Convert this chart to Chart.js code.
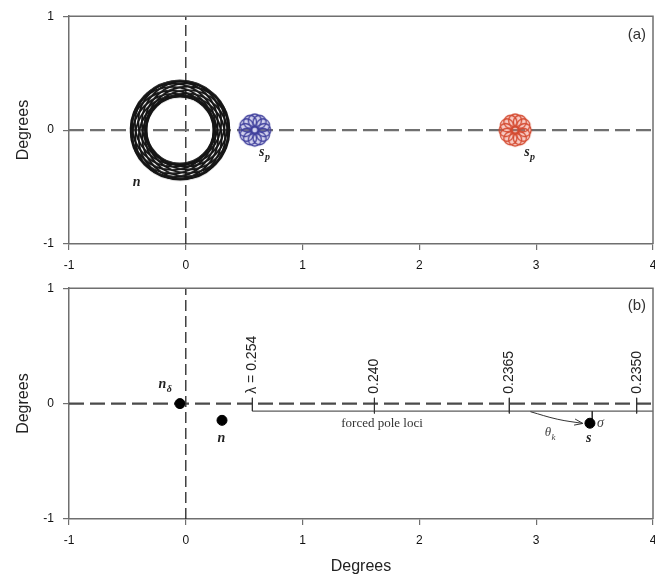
<!DOCTYPE html>
<html>
<head>
<meta charset="utf-8">
<script src="https://cdn.jsdelivr.net/npm/chart.js@4.4.0/dist/chart.umd.min.js"></script>
<style>
  html, body { margin: 0; padding: 0; background: #fff; overflow: hidden; }
  #wrap { position: relative; width: 655px; height: 579px; overflow: hidden; }
  #chartA, #chartB { position: absolute; left: 0; }
  #chartA { top: 0; }
  #chartB { top: 272px; }
</style>
</head>
<body>
<div id="wrap">
  <canvas id="chartA" width="680" height="272"></canvas>
  <canvas id="chartB" width="680" height="307"></canvas>
</div>
<script>
// axes (degrees)
const xTicks = [-1, 0, 1, 2, 3, 4];
const yTicks = [-1, 0, 1];

// (a) nutation ring of n and the two precessing s_p rosettes
const ringX = [-0.05];
const ringY = [0];
const rosetteX = [0.59, 2.82];
const rosetteY = [0, 0];

// (b) pole positions
const poleNames = ["nδ", "n", "s"];
const poleX = [-0.05, 0.31, 3.46];
const poleY = [0, -0.145, -0.17];

// forced pole loci, one per lambda
const lociLabels = ["λ = 0.254", "0.240", "0.2365", "0.2350"];
const lociX = [0.57, 1.615, 2.77, 3.86];
const lociLevel = -0.065;
const lociTickTop = 0.05;
const lociTickBottom = -0.085;

// theta_k arrow from the loci line down to s
const arrowX = [2.95, 3.18, 3.4];
const arrowY = [-0.07, -0.135, -0.172];

// sigma offset between loci line and s
const sigmaX = [3.48, 3.48];
const sigmaY = [-0.065, -0.15];

const axisColor = "#6f6f6f";
const sans = '"Liberation Sans", Arial, sans-serif';
const serif = '"Liberation Serif", "Times New Roman", serif';

// ring marker: precessing loops laid over each other
function ringMarker() {
  const c = document.createElement("canvas");
  c.width = c.height = 112;
  const g = c.getContext("2d");
  g.strokeStyle = "#151515";
  g.lineWidth = 1.9;
  for (let k = 0; k < 14; k++) {
    const a = (k * 2 * Math.PI) / 14 + 0.2;
    g.beginPath();
    g.arc(56 + 8 * Math.cos(a), 56 + 8 * Math.sin(a), 41.5, 0, 2 * Math.PI);
    g.stroke();
  }
  return c;
}

// rosette marker: small loops around a centre
function rosetteMarker(line, tint) {
  const c = document.createElement("canvas");
  c.width = c.height = 38;
  const g = c.getContext("2d");
  g.fillStyle = tint;
  g.beginPath();
  g.arc(19, 19, 15, 0, 2 * Math.PI);
  g.fill();
  g.strokeStyle = line;
  g.lineWidth = 1.3;
  for (let k = 0; k < 12; k++) {
    const a = (k * Math.PI) / 6;
    g.beginPath();
    g.arc(19 + 9.5 * Math.cos(a), 19 + 9.5 * Math.sin(a), 6.5, 0, 2 * Math.PI);
    g.stroke();
  }
  return c;
}

function pts(xs, ys) {
  return xs.map((x, i) => ({ x: x, y: ys[i] }));
}

function zeroLines(hColor, hWidth) {
  return [
    {
      data: [{ x: xTicks[0], y: 0 }, { x: xTicks[xTicks.length - 1], y: 0 }],
      showLine: true, borderColor: hColor, borderWidth: hWidth, borderDash: [15, 6],
      pointRadius: 0,
    },
    {
      data: [{ x: 0, y: yTicks[0] }, { x: 0, y: yTicks[yTicks.length - 1] }],
      showLine: true, borderColor: "#222", borderWidth: 1.3, borderDash: [11, 5],
      pointRadius: 0,
    },
  ];
}

function scales(xHeight, withTitle) {
  return {
    x: {
      type: "linear", min: -1, max: 4,
      afterBuildTicks: (s) => { s.ticks = xTicks.map((v) => ({ value: v })); },
      afterFit: (s) => { s.height = xHeight; },
      grid: { drawOnChartArea: false, drawTicks: true, tickLength: 6, color: axisColor, lineWidth: 1.2 },
      border: { color: axisColor, width: 1.5 },
      ticks: { color: "#111", font: { family: sans, size: 12 }, padding: 8, maxRotation: 0, autoSkip: false },
      title: {
        display: withTitle, text: "Degrees", color: "#222",
        font: { family: sans, size: 16 }, padding: { top: 0, bottom: 3 },
      },
    },
    y: {
      type: "linear", min: -1, max: 1,
      afterBuildTicks: (s) => { s.ticks = yTicks.map((v) => ({ value: v })); },
      afterFit: (s) => { s.width = 69; },
      grid: { drawOnChartArea: false, drawTicks: true, tickLength: 6, color: axisColor, lineWidth: 1.2 },
      border: { color: axisColor, width: 1.5 },
      ticks: { color: "#111", font: { family: sans, size: 12 }, padding: 9 },
      title: {
        display: true, text: "Degrees", color: "#222",
        font: { family: sans, size: 16 }, padding: { top: 14, bottom: 0 },
      },
    },
  };
}

function drawNote(ctx, xs, ys, n) {
  const px = xs.getPixelForValue(n.x);
  const py = ys.getPixelForValue(n.y);
  ctx.save();
  ctx.translate(px, py);
  if (n.rotate) ctx.rotate(n.rotate);
  ctx.font = n.font;
  ctx.fillStyle = n.color || "#222";
  ctx.textAlign = n.align || "center";
  ctx.textBaseline = "middle";
  ctx.fillText(n.text, 0, 0);
  if (n.sub) {
    const w = ctx.measureText(n.text).width;
    const start = n.align === "left" ? w : n.align === "right" ? 0 : w / 2;
    ctx.font = n.subFont;
    ctx.textAlign = "left";
    ctx.fillText(n.sub, start + 0.5, 5);
  }
  ctx.restore();
}

// box edges, text notes and an optional arrowhead
function overlay(notes, arrow) {
  return {
    id: "overlay",
    afterDatasetsDraw(chart) {
      const { ctx, chartArea: a, scales: { x, y } } = chart;
      ctx.save();
      ctx.strokeStyle = axisColor;
      ctx.lineWidth = 1.5;
      ctx.beginPath();
      ctx.moveTo(a.left, a.top);
      ctx.lineTo(a.right, a.top);
      ctx.lineTo(a.right, a.bottom);
      ctx.stroke();
      notes.forEach((n) => drawNote(ctx, x, y, n));
      if (arrow) {
        const n = arrow.x.length;
        const x1 = x.getPixelForValue(arrow.x[n - 2]), y1 = y.getPixelForValue(arrow.y[n - 2]);
        const x2 = x.getPixelForValue(arrow.x[n - 1]), y2 = y.getPixelForValue(arrow.y[n - 1]);
        const ang = Math.atan2(y2 - y1, x2 - x1);
        ctx.strokeStyle = "#333";
        ctx.lineWidth = 1;
        ctx.beginPath();
        ctx.moveTo(x2 - 9 * Math.cos(ang - 0.35), y2 - 9 * Math.sin(ang - 0.35));
        ctx.lineTo(x2, y2);
        ctx.lineTo(x2 - 9 * Math.cos(ang + 0.35), y2 - 9 * Math.sin(ang + 0.35));
        ctx.stroke();
      }
      ctx.restore();
    },
  };
}

const common = {
  responsive: false,
  animation: false,
  events: [],
  plugins: { legend: { display: false }, tooltip: { enabled: false } },
};

const labelFont = "bold italic 14px " + serif;
const subFont = "bold italic 10px " + serif;

// ---- panel (a)
const notesA = [
  { text: "n", x: -0.42, y: -0.46, font: labelFont },
  { text: "s", sub: "p", x: 0.65, y: -0.2, font: labelFont, subFont: subFont },
  { text: "s", sub: "p", x: 2.92, y: -0.2, font: labelFont, subFont: subFont },
  { text: "(a)", x: 3.94, y: 0.84, font: "15px " + sans, align: "right", color: "#333" },
];

new Chart(document.getElementById("chartA"), {
  type: "scatter",
  data: {
    datasets: [
      {
        data: pts(ringX, ringY),
        pointStyle: ringMarker(), pointRadius: 5,
      },
      {
        data: pts(rosetteX.slice(0, 1), rosetteY.slice(0, 1)),
        pointStyle: rosetteMarker("#3f3f9c", "rgba(110,110,200,0.3)"), pointRadius: 5,
      },
      {
        data: pts(rosetteX.slice(1), rosetteY.slice(1)),
        pointStyle: rosetteMarker("#d44a30", "rgba(235,110,90,0.35)"), pointRadius: 5,
      },
      ...zeroLines("#707070", 2.2),
    ],
  },
  options: {
    ...common,
    layout: { padding: { left: 0, top: 13, right: 27, bottom: 0 } },
    scales: scales(28, false),
  },
  plugins: [overlay(notesA, null)],
});

// ---- panel (b)
const lociFont = "14px " + sans;
const notesB = [
  { text: "n", sub: "δ", x: -0.2, y: 0.17, font: labelFont, subFont: subFont },
  { text: "n", x: 0.305, y: -0.3, font: labelFont },
  { text: "s", x: 3.45, y: -0.3, font: labelFont },
  { text: "σ", x: 3.52, y: -0.17, font: "italic 14px " + serif, align: "left", color: "#444" },
  { text: "θ", sub: "k", x: 3.1, y: -0.25, font: "italic 13px " + serif, subFont: "italic 9px " + serif, color: "#444" },
  { text: "forced pole loci", x: 1.68, y: -0.175, font: "13px " + serif, color: "#333" },
  { text: "(b)", x: 3.94, y: 0.85, font: "15px " + sans, align: "right", color: "#333" },
];
lociLabels.forEach((t, i) => {
  notesB.push({ text: t, x: lociX[i], y: 0.085, font: lociFont, align: "left", rotate: -Math.PI / 2 });
});

const lociSets = [
  {
    data: [
      { x: lociX[0], y: lociTickTop },
      { x: lociX[0], y: lociLevel },
      { x: xTicks[xTicks.length - 1], y: lociLevel },
    ],
    showLine: true, borderColor: "#333", borderWidth: 1, pointRadius: 0,
  },
];
lociX.slice(1).forEach((lx) => {
  lociSets.push({
    data: [{ x: lx, y: lociTickTop }, { x: lx, y: lociTickBottom }],
    showLine: true, borderColor: "#333", borderWidth: 1, pointRadius: 0,
  });
});

new Chart(document.getElementById("chartB"), {
  type: "scatter",
  data: {
    datasets: [
      {
        data: pts(poleX, poleY),
        backgroundColor: "#000", borderColor: "#000", pointRadius: 5,
      },
      {
        data: pts(arrowX, arrowY),
        showLine: true, tension: 0.4, borderColor: "#333", borderWidth: 1, pointRadius: 0,
      },
      {
        data: pts(sigmaX, sigmaY),
        showLine: true, borderColor: "#333", borderWidth: 1, pointRadius: 0,
      },
      ...lociSets,
      ...zeroLines("#4a4a4a", 2.2),
    ],
  },
  options: {
    ...common,
    layout: { padding: { left: 0, top: 13, right: 27, bottom: 0 } },
    scales: scales(60, true),
  },
  plugins: [overlay(notesB, { x: arrowX, y: arrowY })],
});
</script>
</body>
</html>
